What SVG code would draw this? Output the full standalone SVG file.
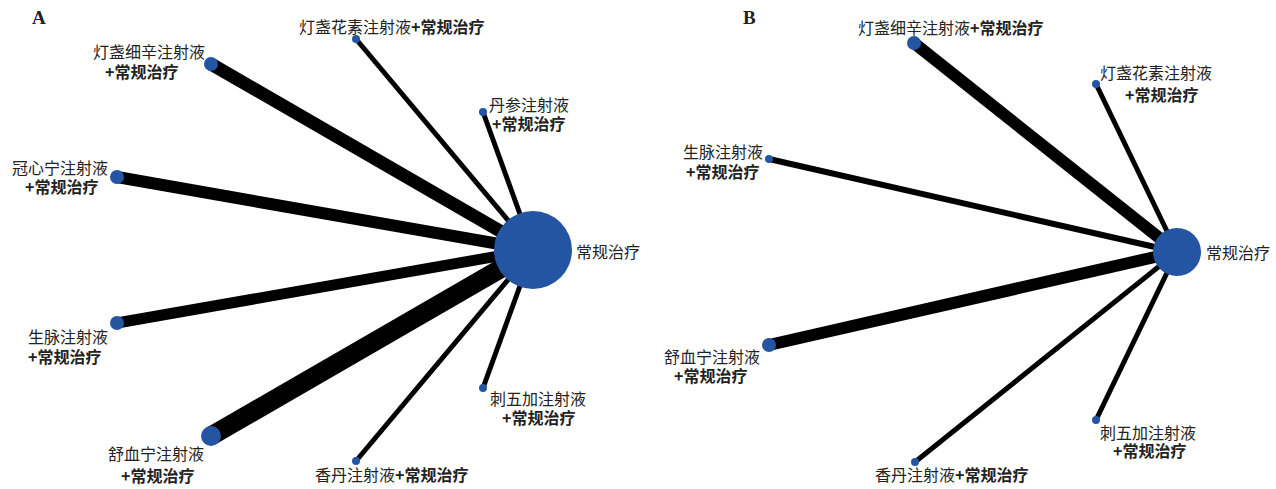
<svg xmlns="http://www.w3.org/2000/svg" width="1276" height="489" viewBox="0 0 1276 489">
<style>
.t{font-family:"Noto Sans CJK SC","Noto Sans",sans-serif;font-size:16px;fill:#222}
.b{font-weight:bold}
.p{font-family:"Liberation Serif",serif;font-size:19px;font-weight:bold;fill:#222}
.n{fill:#2455A3}
.e{stroke:#000;fill:none;stroke-linecap:butt}
</style>
<rect width="1276" height="489" fill="#fff"/>
<text class="p" x="32" y="24">A</text>
<text class="p" x="743" y="24">B</text>
<g id="connectors">
  <line class="e" x1="211" y1="64" x2="533" y2="250" stroke-width="13"/>
  <line class="e" x1="117" y1="177" x2="533" y2="250" stroke-width="12"/>
  <line class="e" x1="117" y1="323" x2="533" y2="250" stroke-width="11"/>
  <line class="e" x1="211" y1="436" x2="533" y2="250" stroke-width="19"/>
  <line class="e" x1="356" y1="39" x2="533" y2="250" stroke-width="5"/>
  <line class="e" x1="483" y1="112" x2="533" y2="250" stroke-width="5"/>
  <line class="e" x1="356" y1="461" x2="533" y2="250" stroke-width="5"/>
  <line class="e" x1="483" y1="388" x2="533" y2="250" stroke-width="5"/>
  <line class="e" x1="914" y1="43" x2="1177" y2="252" stroke-width="12"/>
  <line class="e" x1="1096" y1="84" x2="1177" y2="252" stroke-width="5"/>
  <line class="e" x1="769" y1="159" x2="1177" y2="252" stroke-width="6"/>
  <line class="e" x1="769" y1="345" x2="1177" y2="252" stroke-width="12"/>
  <line class="e" x1="915" y1="462" x2="1177" y2="252" stroke-width="5"/>
  <line class="e" x1="1096" y1="420" x2="1177" y2="252" stroke-width="5"/>
</g>
<g id="A-center"><circle class="n" cx="533" cy="250" r="39"/><text class="t" x="576" y="258">常规治疗</text></g>
<g id="A-dengzhanxixin"><circle class="n" cx="211" cy="64" r="7"/><text class="t"><tspan x="93" y="58">灯盏细辛注射液</tspan><tspan class="b" x="105" y="78">+常规治疗</tspan></text></g>
<g id="A-guanxinning"><circle class="n" cx="117" cy="177" r="7"/><text class="t"><tspan x="12" y="174">冠心宁注射液</tspan><tspan class="b" x="25" y="193">+常规治疗</tspan></text></g>
<g id="A-shengmai"><circle class="n" cx="117" cy="323" r="7"/><text class="t"><tspan x="28" y="343">生脉注射液</tspan><tspan class="b" x="28" y="363">+常规治疗</tspan></text></g>
<g id="A-shuxuening"><circle class="n" cx="211" cy="436" r="10"/><text class="t"><tspan x="108" y="460">舒血宁注射液</tspan><tspan class="b" x="121" y="482">+常规治疗</tspan></text></g>
<g id="A-xiangdan"><circle class="n" cx="356" cy="461" r="4"/><text class="t" x="315" y="481">香丹注射液<tspan class="b">+常规治疗</tspan></text></g>
<g id="A-ciwujia"><circle class="n" cx="483" cy="388" r="4"/><text class="t"><tspan x="490" y="405">刺五加注射液</tspan><tspan class="b" x="502" y="424">+常规治疗</tspan></text></g>
<g id="A-dengzhanhuasu"><circle class="n" cx="356" cy="39" r="4"/><text class="t" x="299" y="33">灯盏花素注射液<tspan class="b">+常规治疗</tspan></text></g>
<g id="A-danshen"><circle class="n" cx="483" cy="112" r="4"/><text class="t"><tspan x="489" y="111">丹参注射液</tspan><tspan class="b" x="492" y="130">+常规治疗</tspan></text></g>
<g id="B-center"><circle class="n" cx="1177" cy="252" r="24"/><text class="t" x="1206" y="259">常规治疗</text></g>
<g id="B-dengzhanxixin"><circle class="n" cx="914" cy="43" r="7"/><text class="t" x="858" y="34">灯盏细辛注射液<tspan class="b">+常规治疗</tspan></text></g>
<g id="B-dengzhanhuasu"><circle class="n" cx="1096" cy="84" r="4"/><text class="t"><tspan x="1100" y="79">灯盏花素注射液</tspan><tspan class="b" x="1125" y="101">+常规治疗</tspan></text></g>
<g id="B-shengmai"><circle class="n" cx="769" cy="159" r="4"/><text class="t"><tspan x="683" y="158">生脉注射液</tspan><tspan class="b" x="686" y="178">+常规治疗</tspan></text></g>
<g id="B-shuxuening"><circle class="n" cx="769" cy="345" r="7"/><text class="t"><tspan x="664" y="363">舒血宁注射液</tspan><tspan class="b" x="674" y="382">+常规治疗</tspan></text></g>
<g id="B-xiangdan"><circle class="n" cx="915" cy="462" r="4"/><text class="t" x="875" y="481">香丹注射液<tspan class="b">+常规治疗</tspan></text></g>
<g id="B-ciwujia"><circle class="n" cx="1096" cy="420" r="4"/><text class="t"><tspan x="1100" y="439">刺五加注射液</tspan><tspan class="b" x="1113" y="457">+常规治疗</tspan></text></g>
</svg>
